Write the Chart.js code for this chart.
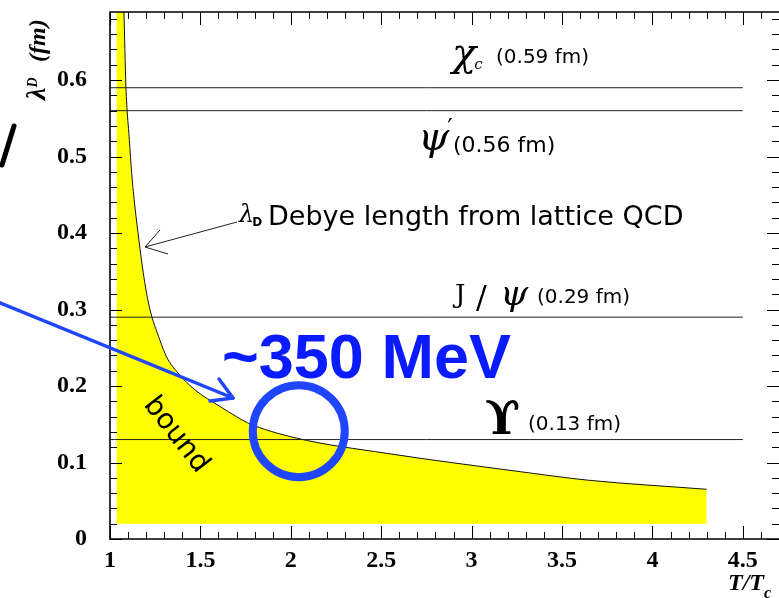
<!DOCTYPE html>
<html>
<head>
<meta charset="utf-8">
<script src="https://cdn.jsdelivr.net/npm/chart.js@4.4.0/dist/chart.umd.min.js"></script>
<style>
  html, body { margin: 0; padding: 0; background: #fff; }
  canvas { display: block; }
</style>
</head>
<body>
<canvas id="debye" width="779" height="598"></canvas>
<script>
// Debye screening length from lattice QCD vs T/Tc
const DEBYE_T   = [1.035, 1.077, 1.088, 1.107, 1.12, 1.138, 1.16, 1.184, 1.217, 1.276, 1.313, 1.376, 1.47, 1.61, 1.70, 1.76, 2.03, 2.53, 3.27, 3.64, 4.30];
const DEBYE_LEN = [0.95, 0.689, 0.592, 0.522, 0.478, 0.434, 0.391, 0.348, 0.304, 0.260, 0.238, 0.217, 0.195, 0.173, 0.160, 0.152, 0.132, 0.112, 0.088, 0.077, 0.065];
const BOUND_FLOOR = 0.02;

// quarkonium radii (fm), drawn as horizontal lines
const STATE_RADII = [0.59, 0.56, 0.29, 0.13];
const STATE_T_RANGE = [1, 4.5];

// highlighted crossing point
const MARK_T = [2.044];
const MARK_LEN = [0.141];

const X_TICKS = [1, 1.5, 2, 2.5, 3, 3.5, 4, 4.5];
const Y_TICKS = [0, 0.1, 0.2, 0.3, 0.4, 0.5, 0.6];

const YELLOW = '#ffff00';
const BLUE = '#1f45ff';

const curvePoints = DEBYE_T.map((t, i) => ({ x: t, y: DEBYE_LEN[i] }));

const stateSets = STATE_RADII.map(r => ({
    data: STATE_T_RANGE.map(t => ({ x: t, y: r })),
    borderColor: '#222',
    borderWidth: 1,
    pointRadius: 0,
    fill: false,
    order: 2
}));

function text(ctx, str, x, y, font, color) {
    ctx.font = font;
    ctx.fillStyle = color || '#000';
    ctx.fillText(str, x, y);
    return ctx.measureText(str).width;
}

function line(ctx, pts, width, color) {
    ctx.beginPath();
    ctx.moveTo(pts[0][0], pts[0][1]);
    for (let i = 1; i < pts.length; i++) ctx.lineTo(pts[i][0], pts[i][1]);
    ctx.lineWidth = width;
    ctx.strokeStyle = color;
    ctx.stroke();
}

// no extra room around the plot for edge labels
function fixBox(s, size) {
    if (s.isHorizontal()) s.height = size; else s.width = size;
    s.paddingTop = 0;
    s.paddingBottom = 0;
    s.paddingLeft = 0;
    s.paddingRight = 0;
}

// frame with inward ticks on all four sides
const rootFrame = {
    id: 'rootFrame',
    afterDatasetsDraw(chart) {
        const { ctx, chartArea: a, scales: { x, y } } = chart;
        ctx.save();
        ctx.lineCap = 'butt';
        ctx.beginPath();
        for (let i = 0; i <= 37; i++) {
            const px = Math.round(x.getPixelForValue(1 + i * 0.1)) + 0.5;
            const len = i % 5 === 0 ? 13 : 7;
            ctx.moveTo(px, a.bottom); ctx.lineTo(px, a.bottom - len);
            ctx.moveTo(px, a.top); ctx.lineTo(px, a.top + len);
        }
        for (let i = 0; i <= 34; i++) {
            const py = Math.round(y.getPixelForValue(i * 0.02)) + 0.5;
            const len = i % 5 === 0 ? 12 : 7;
            ctx.moveTo(a.left, py); ctx.lineTo(a.left + len, py);
            ctx.moveTo(a.right, py); ctx.lineTo(a.right - len, py);
        }
        ctx.lineWidth = 1;
        ctx.strokeStyle = '#000';
        ctx.stroke();
        // left, top and bottom edges (right edge sits just past the canvas)
        line(ctx, [[a.right, a.top], [a.left, a.top], [a.left, a.bottom], [a.right, a.bottom]], 1.6, '#000');

        // state labels
        const sans = '"DejaVu Sans", sans-serif';
        const greek = '"DejaVu Serif", serif';
        ctx.textBaseline = 'alphabetic';
        let w = text(ctx, '\u03c7', 452, 66, 'italic 40px ' + greek);
        text(ctx, 'c', 452 + w - 2, 69, 'italic 15px ' + greek);
        text(ctx, '(0.59 fm)', 496, 63, '20px ' + sans);

        w = text(ctx, '\u03c8', 418, 150, 'italic 40px ' + greek);
        text(ctx, '\u2032', 418 + w - 2, 136, '24px ' + greek);
        text(ctx, '(0.56 fm)', 453, 152, '22px ' + sans);

        text(ctx, 'J', 455, 303, '26px ' + greek);
        text(ctx, '/', 476, 308, '32px ' + greek);
        text(ctx, '\u03c8', 500, 305, 'italic 36px ' + greek);
        text(ctx, '(0.29 fm)', 537, 303, '20px ' + sans);

        text(ctx, '\u03d2', 485, 434, 'bold 46px ' + greek);
        text(ctx, '(0.13 fm)', 528, 430, '20px ' + sans);

        // Debye length label with arrow to the curve
        w = text(ctx, '\u03bb', 239, 222, 'italic 24px ' + greek);
        text(ctx, 'D', 239 + w - 2, 226, 'bold 12px ' + sans);
        text(ctx, 'Debye length from lattice QCD', 268, 225, '27px ' + sans);
        line(ctx, [[237, 222], [145, 247]], 1, '#222');
        line(ctx, [[160, 230], [145, 247], [168, 254]], 1, '#222');

        // "bound" along the yellow region
        ctx.save();
        ctx.translate(176, 435);
        ctx.rotate(52 * Math.PI / 180);
        ctx.textAlign = 'center';
        ctx.textBaseline = 'middle';
        text(ctx, 'bound', 0, 0, '28px ' + sans);
        ctx.restore();

        // axis titles
        const serif = '"Liberation Serif", "Times New Roman", serif';
        ctx.save();
        ctx.translate(45, 100);
        ctx.rotate(-Math.PI / 2);
        w = text(ctx, '\u03bb', 0, 0, 'bold italic 28px ' + serif);
        text(ctx, 'D', w, -8, 'bold italic 14px ' + serif);
        text(ctx, '(fm)', 38, 0, 'bold italic 24px ' + serif);
        ctx.restore();
        w = text(ctx, 'T/T', 728, 590, 'bold italic 24px ' + serif);
        text(ctx, 'c', 728 + w, 598, 'bold italic 16px ' + serif);

        // blue energy annotation
        text(ctx, '~350 MeV', 222, 378, 'bold 63px "Liberation Sans", Arial, sans-serif', '#0a1cff');
        ctx.lineCap = 'round';
        ctx.lineJoin = 'round';
        line(ctx, [[-2, 302], [233, 398]], 3.5, BLUE);
        line(ctx, [[219, 379], [233, 398], [210, 401]], 3.5, BLUE);
        line(ctx, [[2, 165], [14, 126]], 5, '#000');
        ctx.restore();
    }
};

const tickFont = { family: '"Liberation Serif", "Times New Roman", serif', size: 24, weight: 'bold' };

new Chart(document.getElementById('debye'), {
    type: 'line',
    data: {
        datasets: [{
            data: curvePoints,
            borderColor: '#111',
            borderWidth: 1,
            backgroundColor: YELLOW,
            fill: { value: BOUND_FLOOR },
            pointRadius: 0,
            cubicInterpolationMode: 'monotone',
            order: 3
        }, ...stateSets, {
            data: MARK_T.map((t, i) => ({ x: t, y: MARK_LEN[i] })),
            showLine: false,
            pointRadius: 46,
            pointBorderWidth: 8,
            pointBorderColor: BLUE,
            pointBackgroundColor: 'rgba(0,0,0,0)',
            clip: false,
            order: 1
        }]
    },
    options: {
        responsive: false,
        animation: false,
        devicePixelRatio: 1,
        layout: { autoPadding: false, padding: { top: 12, left: 0, right: 0, bottom: 0 } },
        plugins: { legend: { display: false }, tooltip: { enabled: false } },
        scales: {
            x: {
                type: 'linear',
                min: 1,
                max: 4.7,
                grid: { display: false, drawTicks: false },
                border: { display: false },
                afterBuildTicks: s => { s.ticks = X_TICKS.map(v => ({ value: v })); },
                afterFit: s => fixBox(s, 59),
                ticks: {
                    autoSkip: false,
                    maxRotation: 0,
                    padding: 7,
                    color: '#000',
                    font: tickFont,
                    callback: v => String(v)
                }
            },
            y: {
                min: 0,
                max: 0.689,
                grid: { display: false, drawTicks: false },
                border: { display: false },
                afterBuildTicks: s => { s.ticks = Y_TICKS.map(v => ({ value: v })); },
                afterFit: s => fixBox(s, 110),
                ticks: {
                    autoSkip: false,
                    padding: 23,
                    color: '#000',
                    font: tickFont,
                    callback: v => String(v)
                }
            }
        }
    },
    plugins: [rootFrame]
});
</script>
</body>
</html>
